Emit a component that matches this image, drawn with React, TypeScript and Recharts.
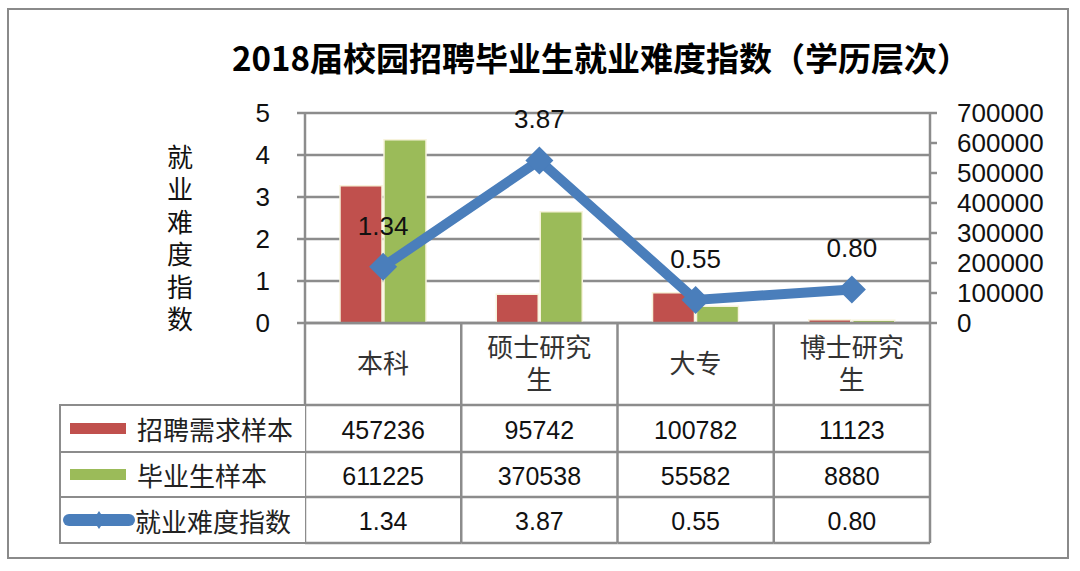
import React from "react"
import { ComposedChart, Bar, Line, XAxis, YAxis, CartesianGrid, Legend, LabelList } from "recharts"

// 学历层次
const categories = ["本科", "硕士研究生", "大专", "博士研究生"]
// 招聘需求样本
const demandSamples = [457236, 95742, 100782, 11123]
// 毕业生样本
const graduateSamples = [611225, 370538, 55582, 8880]
// 就业难度指数
const difficultyIndex = [1.34, 3.87, 0.55, 0.8]

const leftTicks = [0, 1, 2, 3, 4, 5]
const rightTicks = [0, 100000, 200000, 300000, 400000, 500000, 600000, 700000]

const series = [
  { key: "demand", name: "招聘需求样本", color: "#c0504d", values: demandSamples, fmt: (v: number) => String(v) },
  { key: "graduates", name: "毕业生样本", color: "#9bbb59", values: graduateSamples, fmt: (v: number) => String(v) },
  { key: "index", name: "就业难度指数", color: "#4a7ebb", values: difficultyIndex, fmt: (v: number) => v.toFixed(2) },
]

const data = categories.map((name, i) => ({
  name,
  demand: demandSamples[i],
  graduates: graduateSamples[i],
  index: difficultyIndex[i],
}))

const W = 1080
const H = 571
const PLOT_TOP = 113
const PLOT_H = 210
const PLOT_LEFT = 305
const PLOT_RIGHT = 930
const BAND = (PLOT_RIGHT - PLOT_LEFT) / categories.length
const PLOT_BOTTOM = PLOT_TOP + PLOT_H
const ROWS = [PLOT_BOTTOM, 405, 452, 497, 543]
const GRID = "#8c8c8c"
const FONT = '"Liberation Sans", "Noto Sans CJK SC", sans-serif'

function wrap(label: string) {
  return label.length > 4 ? [label.slice(0, 4), label.slice(4)] : [label]
}

function TableColumn(props: any) {
  const { x, payload, index } = props
  const left = x - BAND / 2
  const right = x + BAND / 2
  const lines = wrap(payload.value)
  const headMid = (ROWS[0] + ROWS[1]) / 2
  return (
    <g>
      {index === 0 && <line x1={left} x2={left} y1={ROWS[0]} y2={ROWS[4]} stroke={GRID} strokeWidth={2.5} />}
      <line x1={right} x2={right} y1={ROWS[0]} y2={ROWS[4]} stroke={GRID} strokeWidth={2.5} />
      {ROWS.slice(1).map((ry) => (
        <line key={ry} x1={left} x2={right} y1={ry} y2={ry} stroke={GRID} strokeWidth={2.5} />
      ))}
      {lines.map((t, k) => (
        <text
          key={t}
          x={x}
          y={lines.length === 1 ? headMid : headMid - 16 + k * 32}
          textAnchor="middle"
          dominantBaseline="central"
          fontSize={26}
          fill="#333"
          fontFamily={FONT}
        >
          {t}
        </text>
      ))}
      {series.map((s, r) => (
        <text
          key={s.key}
          x={x}
          y={(ROWS[r + 1] + ROWS[r + 2]) / 2 + 1}
          textAnchor="middle"
          dominantBaseline="central"
          fontSize={25}
          fill="#111"
          fontFamily={FONT}
        >
          {s.fmt(s.values[index])}
        </text>
      ))}
    </g>
  )
}

function LegendTable() {
  return (
    <div
      style={{
        width: 246,
        borderLeft: `2.5px solid ${GRID}`,
        borderTop: `2.5px solid ${GRID}`,
        boxSizing: "border-box",
        fontFamily: FONT,
        background: "#fff",
      }}
    >
      {series.map((s, r) => (
        <div
          key={s.key}
          style={{
            height: ROWS[r + 2] - ROWS[r + 1],
            borderBottom: `2.5px solid ${GRID}`,
            boxSizing: "border-box",
            display: "flex",
            alignItems: "center",
          }}
        >
          {s.key === "index" ? (
            <svg width={72} height={20} style={{ marginLeft: 2 }}>
              <line x1={6} x2={66} y1={10} y2={10} stroke={s.color} strokeWidth={12} strokeLinecap="round" />
              <polygon points="36,1 42,10 36,19 30,10" fill={s.color} />
            </svg>
          ) : (
            <div style={{ width: 56, height: 11, background: s.color, marginLeft: 9, marginRight: 11 }} />
          )}
          <span style={{ fontSize: 26, color: "#222" }}>{s.name}</span>
        </div>
      ))}
    </div>
  )
}

function Diamond(props: any) {
  const { cx, cy, index } = props
  const r = 14
  return (
    <polygon
      key={`dot-${index}`}
      points={`${cx},${cy - r} ${cx + r},${cy} ${cx},${cy + r} ${cx - r},${cy}`}
      fill="#4a7ebb"
    />
  )
}

function AxisTitle() {
  const chars = "就业难度指数".split("")
  return (
    <g>
      {chars.map((c, i) => (
        <text
          key={i}
          x={180}
          y={158 + i * 32.4}
          textAnchor="middle"
          dominantBaseline="central"
          fontSize={26}
          fill="#111"
          fontFamily={FONT}
        >
          {c}
        </text>
      ))}
    </g>
  )
}

export default function App() {
  return (
    <div style={{ position: "absolute", left: 0, top: 0, width: W, height: H, background: "#fff", fontFamily: FONT }}>
      <div
        style={{
          position: "absolute",
          left: 7,
          top: 8,
          width: 1062,
          height: 551,
          border: "2px solid #8a8a8a",
          boxSizing: "border-box",
        }}
      />
      <div
        style={{
          position: "absolute",
          left: 0,
          width: 1202,
          top: 35,
          textAlign: "center",
          fontSize: 33,
          fontWeight: "bold",
          color: "#000",
          fontFamily: '"Noto Sans CJK SC", sans-serif',
          lineHeight: "44px",
        }}
      >
        2018届校园招聘毕业生就业难度指数（学历层次）
      </div>
      <div style={{ position: "absolute", left: 0, top: 0 }}>
        <ComposedChart
          width={W}
          height={H}
          data={data}
          margin={{ top: PLOT_TOP, left: PLOT_LEFT - 60, right: W - PLOT_RIGHT - 120, bottom: H - PLOT_BOTTOM - 220 }}
          barSize={42}
          barGap={2}
        >
          <CartesianGrid vertical={false} yAxisId="left" stroke={GRID} strokeWidth={2.5} />
          <XAxis
            dataKey="name"
            height={220}
            interval={0}
            tickLine={false}
            axisLine={{ stroke: GRID, strokeWidth: 2.5 }}
            tick={<TableColumn />}
          />
          <YAxis
            yAxisId="left"
            width={60}
            domain={[0, 5]}
            ticks={leftTicks}
            interval={0}
            tickSize={8}
            tickMargin={27}
            tickLine={{ stroke: GRID, strokeWidth: 2.5 }}
            axisLine={{ stroke: GRID, strokeWidth: 2.5 }}
            tick={{ fontSize: 26, fill: "#111", fontFamily: FONT }}
            label={<AxisTitle />}
          />
          <YAxis
            yAxisId="right"
            orientation="right"
            width={120}
            domain={[0, 700000]}
            ticks={rightTicks}
            interval={0}
            tickSize={7}
            tickMargin={20}
            tickLine={{ stroke: GRID, strokeWidth: 2.5 }}
            axisLine={{ stroke: GRID, strokeWidth: 2.5 }}
            tick={{ fontSize: 26, fill: "#111", fontFamily: FONT, textAnchor: "start" }}
          />
          <Legend
            content={<LegendTable />}
            wrapperStyle={{
              position: "absolute",
              left: 59,
              top: ROWS[1] - 1,
              width: 246,
              height: 0,
              overflow: "visible",
              bottom: "auto",
            }}
          />
          <Bar
            yAxisId="right"
            dataKey="demand"
            name="招聘需求样本"
            fill="#c0504d"
            stroke="#f7f3dc"
            strokeWidth={1.5}
            isAnimationActive={false}
          />
          <Bar
            yAxisId="right"
            dataKey="graduates"
            name="毕业生样本"
            fill="#9bbb59"
            stroke="#f7f3dc"
            strokeWidth={1.5}
            isAnimationActive={false}
          />
          <Line
            yAxisId="left"
            dataKey="index"
            name="就业难度指数"
            stroke="#4a7ebb"
            strokeWidth={10}
            dot={<Diamond />}
            activeDot={false}
            isAnimationActive={false}
          >
            <LabelList
              dataKey="index"
              position="top"
              offset={32}
              formatter={(v: any) => Number(v).toFixed(2)}
              fill="#111"
              fontSize={26}
              fontFamily={FONT}
            />
          </Line>
        </ComposedChart>
      </div>
    </div>
  )
}
